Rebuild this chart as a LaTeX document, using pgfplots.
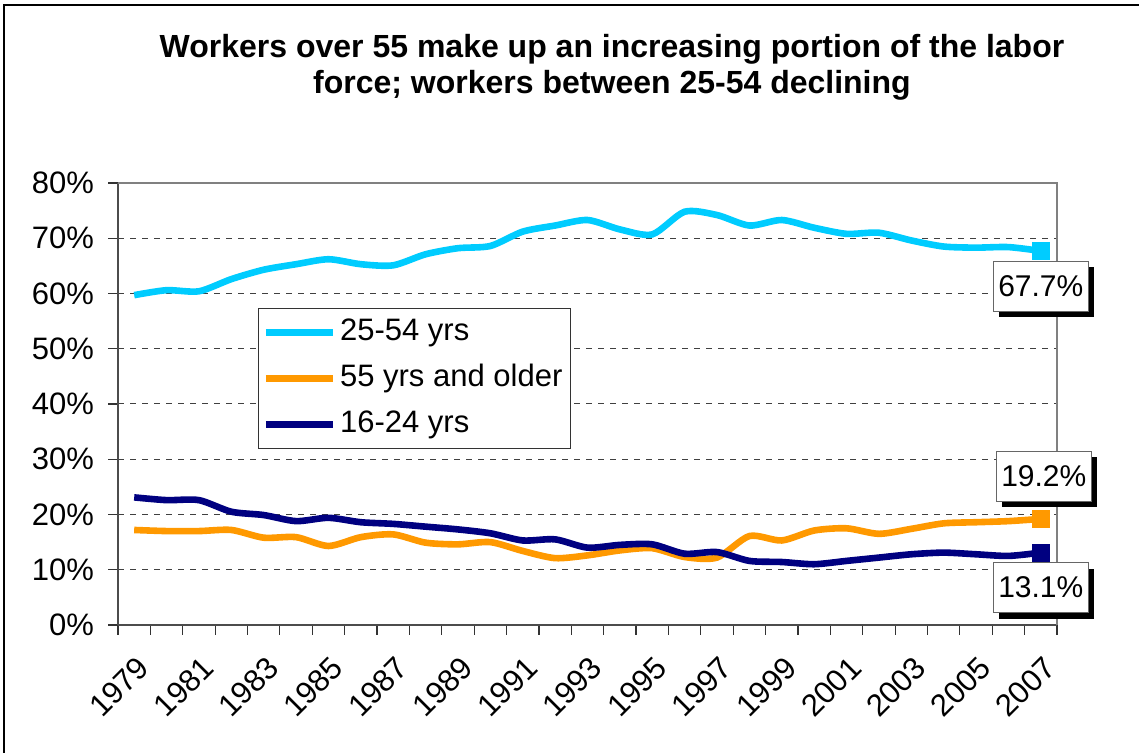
\documentclass[border=0pt]{standalone}
\usepackage{fontspec}
\setmainfont{Liberation Sans}
\usepackage{pgfplots}
\usepackage{pgfplotstable}
\pgfplotsset{compat=1.18}
\usetikzlibrary{shadows}
\definecolor{cyanline}{RGB}{0,204,255}
\definecolor{orangeline}{RGB}{255,153,0}
\definecolor{navyline}{RGB}{0,0,128}

\pgfplotstableread{
idx year prime older young
0  1979 59.7 17.2 23.1
1  1980 60.6 17.0 22.6
2  1981 60.4 17.0 22.6
3  1982 62.6 17.2 20.5
4  1983 64.3 15.8 19.9
5  1984 65.3 15.9 18.8
6  1985 66.2 14.3 19.4
7  1986 65.3 15.9 18.6
8  1987 65.1 16.4 18.3
9  1988 67.1 14.9 17.8
10 1989 68.2 14.6 17.3
11 1990 68.6 15.0 16.6
12 1991 71.2 13.4 15.3
13 1992 72.3 12.1 15.5
14 1993 73.3 12.6 14.0
15 1994 71.6 13.5 14.5
16 1995 70.7 13.9 14.6
17 1996 74.8 12.3 12.9
18 1997 74.2 12.2 13.2
19 1998 72.3 16.1 11.6
20 1999 73.3 15.3 11.4
21 2000 71.9 17.1 11.0
22 2001 70.8 17.5 11.6
23 2002 71.0 16.5 12.2
24 2003 69.6 17.4 12.8
25 2004 68.5 18.4 13.1
26 2005 68.3 18.6 12.8
27 2006 68.4 18.8 12.5
28 2007 67.7 19.2 13.1
}\labordata

\tikzset{vlabel/.style={draw=black!60, fill=white, font=\fontsize{15}{18}\selectfont,
  minimum width=47.5pt, minimum height=25pt, inner sep=2pt,
  drop shadow={shadow xshift=3pt, shadow yshift=-3pt, fill=black, opacity=1}}}

\begin{document}
\begin{tikzpicture}
\useasboundingbox (0,0) rectangle (569.5pt,376.5pt);
\draw[black, line width=0.6pt] (2pt,0) -- (2pt,374pt) -- (569.5pt,374pt);
\node[align=center, font=\fontsize{16}{18}\selectfont\bfseries] at (306pt,343pt)
  {Workers over 55 make up an increasing portion of the labor\\force; workers between 25-54 declining};
\begin{axis}[
  at={(59pt,64pt)}, anchor=south west,
  scale only axis, width=469.5pt, height=221pt,
  xmin=-0.5, xmax=28.5, ymin=0, ymax=80,
  axis x line*=bottom, axis y line*=left,
  axis line style={draw=black!70, line width=1pt},
  clip=false,
  ytick={0,10,...,80},
  yticklabel={\pgfmathprintnumber{\tick}\%},
  xtick={0,2,...,28},
  xticklabels={1979,1981,1983,1985,1987,1989,1991,1993,1995,1997,1999,2001,2003,2005,2007},
  minor xtick={-0.5,0.5,...,28.5},
  tick align=outside,
  major tick length=5pt, minor tick length=5pt,
  x tick style={draw=none},
  minor x tick style={draw=black!80, line width=0.6pt},
  y tick style={draw=black!80, line width=0.6pt},
  ymajorgrids,
  major grid style={draw=black!75, dash pattern=on 3pt off 3pt, line width=0.5pt},
  tick label style={font=\fontsize{15.5}{18}\selectfont},
  /pgf/number format/assume math mode=true,
  yticklabel style={xshift=-3.5pt},
  xticklabel style={rotate=45, anchor=east, xshift=-3pt, yshift=-13pt},
  legend cell align=left,
  legend style={at={(rel axis cs:0.149,0.717)}, anchor=north west,
    draw=black!80, line width=0.6pt, fill=white,
    font=\fontsize{15.5}{18}\selectfont,
    inner xsep=2pt, inner ysep=3pt, row sep=5pt,
    nodes={inner sep=2pt, text height=11pt, text depth=3pt}},
  legend image code/.code={\draw[#1, line width=3.3pt] (0pt,0pt) -- (33.5pt,0pt);},
  every axis plot/.append style={line width=3.3pt, smooth, tension=0.45,
    mark indices={29}, mark=square*, mark size=4.25pt},
]
\addplot[cyanline, mark options={fill=cyanline, draw=cyanline, line width=0.1pt}]
  table[x=idx, y=prime] {\labordata};
\addlegendentry{25-54 yrs}
\addplot[orangeline, mark options={fill=orangeline, draw=orangeline, line width=0.1pt}]
  table[x=idx, y=older] {\labordata};
\addlegendentry{55 yrs and older\hspace{3pt}}
\addplot[navyline, mark options={fill=navyline, draw=navyline, line width=0.1pt}]
  table[x=idx, y=young] {\labordata};
\addlegendentry{16-24 yrs}
\draw[black!50, line width=1pt] (rel axis cs:0,1) -- (rel axis cs:1,1) -- (rel axis cs:1,0);
\node[vlabel] at (axis cs:28,67.7) [yshift=-17.5pt] {67.7\%};
\node[vlabel] at (axis cs:28,19.2) [yshift=21.5pt, xshift=1.5pt] {19.2\%};
\node[vlabel] at (axis cs:28,13.1) [yshift=-17.5pt] {13.1\%};
\end{axis}
\end{tikzpicture}
\end{document}
